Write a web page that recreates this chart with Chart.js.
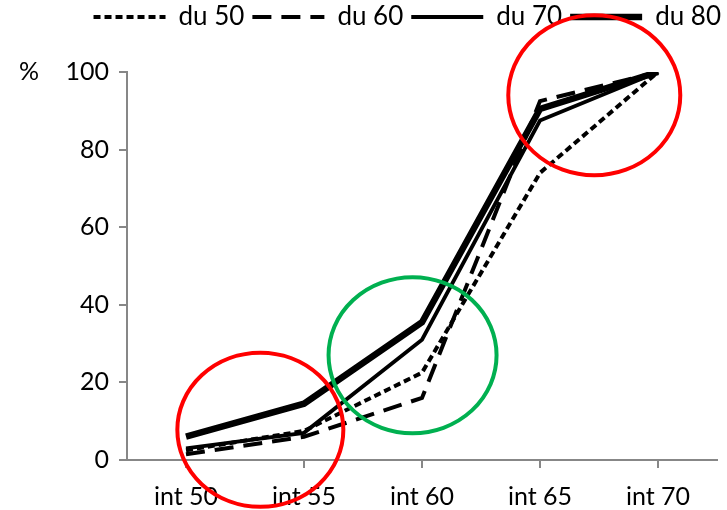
<!DOCTYPE html>
<html>
<head>
<meta charset="utf-8">
<script src="https://cdn.jsdelivr.net/npm/chart.js@4/dist/chart.umd.min.js"></script>
<style>
  html, body { margin: 0; padding: 0; background: #fff; }
  #wrap { width: 727px; height: 510px; }
</style>
</head>
<body>
<div id="wrap"><canvas id="cumChart" width="727" height="510"></canvas></div>
<script>
var categories = ['int 50', 'int 55', 'int 60', 'int 65', 'int 70'];
var du50 = [2.5, 7.5, 22.5, 74, 100];
var du60 = [1.5, 6, 16, 92.5, 100];
var du70 = [3, 7, 31, 87.5, 100];
var du80 = [6, 14.5, 35.5, 90.5, 100];
var yTicks = [0, 20, 40, 60, 80, 100];

// hand-drawn highlight rings: centre in (category index, value), radii in px
var rings = [
    { x: 0.63, y: 7.8, rx: 83, ry: 77, color: '#FF0000' },
    { x: 1.92, y: 27, rx: 84, ry: 78, color: '#00B050' },
    { x: 3.46, y: 94, rx: 86, ry: 80, color: '#FF0000' }
];

var axisGrey = '#878787';
var font = { family: 'Lato, "Open Sans", sans-serif', size: 25 };
var legendFont = { family: 'Lato, "Open Sans", sans-serif', size: 26 };

var ringsPlugin = {
    id: 'rings',
    afterDatasetsDraw: function(chart) {
        var ctx = chart.ctx, xs = chart.scales.x, ys = chart.scales.y;
        var step = xs.getPixelForValue(1) - xs.getPixelForValue(0);
        ctx.save();
        rings.forEach(function(r) {
            var cx = xs.getPixelForValue(0) + r.x * step;
            var cy = ys.getPixelForValue(r.y);
            ctx.beginPath();
            ctx.ellipse(cx, cy, r.rx, r.ry, 0, 0, Math.PI * 2);
            ctx.lineWidth = 4;
            ctx.strokeStyle = r.color;
            ctx.stroke();
        });
        ctx.restore();
    }
};

var percentPlugin = {
    id: 'percent',
    afterDraw: function(chart) {
        var ctx = chart.ctx, ys = chart.scales.y;
        ctx.save();
        ctx.font = font.size + 'px ' + font.family;
        ctx.fillStyle = '#000';
        ctx.textAlign = 'center';
        ctx.textBaseline = 'middle';
        ctx.fillText('%', 29, ys.getPixelForValue(100));
        ctx.restore();
    }
};

// give the legend extra room underneath and nudge it right a bit
var legendSpace = {
    id: 'legendSpace',
    afterInit: function(chart) {
        var lg = chart.legend;
        if (!lg) return;
        var fit = lg.fit;
        lg.fit = function() {
            fit.apply(this, arguments);
            this.height += 32;
        };
    },
    afterLayout: function(chart) {
        if (!chart.legend) return;
        chart.legend.left += 12;
        chart.legend.right += 12;
    }
};

function lineSet(label, data, width, dash) {
    return {
        label: label,
        data: data,
        borderColor: '#000',
        backgroundColor: '#000',
        borderWidth: width,
        borderDash: dash,
        borderCapStyle: 'butt',
        borderJoinStyle: 'miter',
        pointRadius: 0,
        pointHoverRadius: 0,
        tension: 0,
        fill: false
    };
}

new Chart(document.getElementById('cumChart'), {
    type: 'line',
    data: {
        labels: categories,
        datasets: [
            lineSet('du 50', du50, 4, [7, 4]),
            lineSet('du 60', du60, 4, [19, 10]),
            lineSet('du 70', du70, 3.8, []),
            lineSet('du 80', du80, 6.5, [])
        ]
    },
    options: {
        responsive: false,
        animation: false,
        layout: { padding: { left: 0, right: 10, top: -4, bottom: 0 } },
        plugins: {
            tooltip: { enabled: false },
            legend: {
                position: 'top',
                align: 'end',
                labels: {
                    usePointStyle: true,
                    pointStyle: 'line',
                    pointStyleWidth: 72,
                    boxHeight: 26,
                    padding: 8,
                    color: '#000',
                    font: legendFont,
                    generateLabels: function(chart) {
                        return chart.data.datasets.map(function(ds, i) {
                            return {
                                text: ds.label,
                                datasetIndex: i,
                                pointStyle: 'line',
                                strokeStyle: '#000',
                                fillStyle: '#000',
                                fontColor: '#000',
                                lineWidth: ds.borderWidth,
                                lineDash: ds.borderDash,
                                lineCap: 'butt',
                                hidden: false
                            };
                        });
                    }
                }
            }
        },
        scales: {
            x: {
                offset: true,
                grid: { drawOnChartArea: false, drawTicks: true, tickLength: 8, color: axisGrey, lineWidth: 2 },
                border: { display: true, color: axisGrey, width: 2 },
                ticks: { color: '#000', font: font, padding: 14, maxRotation: 0 },
                afterFit: function(scale) { scale.height = 50; }
            },
            y: {
                min: 0,
                max: 100,
                afterBuildTicks: function(scale) {
                    scale.ticks = yTicks.map(function(v) { return { value: v }; });
                },
                grid: { drawOnChartArea: false, drawTicks: true, tickLength: 8, color: axisGrey, lineWidth: 2 },
                border: { display: true, color: axisGrey, width: 2 },
                ticks: { color: '#000', font: font, padding: 10 },
                afterFit: function(scale) { scale.width = 127; }
            }
        }
    },
    plugins: [ringsPlugin, percentPlugin, legendSpace]
});
</script>
</body>
</html>
